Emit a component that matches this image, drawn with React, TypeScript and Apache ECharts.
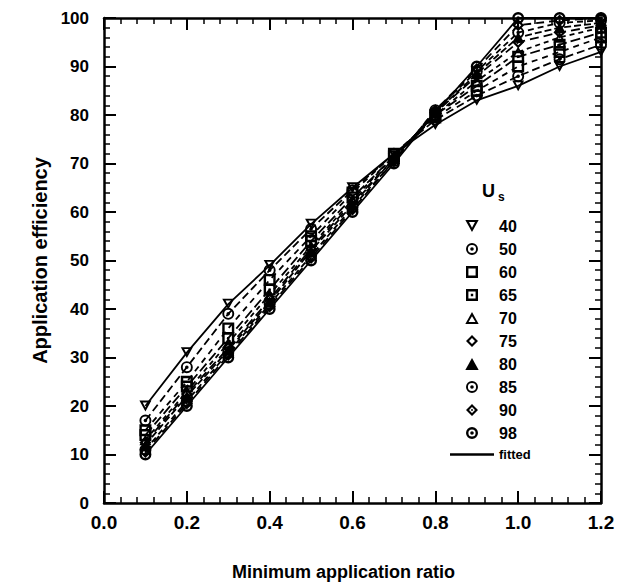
import React, { useEffect, useRef } from "react";
import * as echarts from "echarts";

const ratios = [0.1, 0.2, 0.3, 0.4, 0.5, 0.6, 0.7, 0.8, 0.9, 1.0, 1.1, 1.2];
const usLabels = ["40", "50", "60", "65", "70", "75", "80", "85", "90", "98"];
const us40 = [20, 31, 41, 49, 57.5, 65, 72, 78, 83, 86, 90, 93];
const us50 = [17, 28, 39, 48, 56.5, 64.5, 72, 79, 84, 88, 91.5, 94.5];
const us60 = [15, 25, 36, 46, 55, 64, 72, 79.5, 85, 90, 93, 96];
const us65 = [14, 24, 34, 44, 54, 63, 71.5, 80, 86, 92, 94.5, 97];
const us70 = [13, 23, 33, 43, 53, 62.5, 71.5, 80, 87, 93, 96, 98];
const us75 = [12.5, 22.5, 32, 42, 52.5, 62, 71, 80.5, 88, 95, 97, 98.5];
const us80 = [12, 22, 31.5, 41.5, 52, 61.5, 71, 80.5, 88.5, 96, 98, 99];
const us85 = [11, 21, 31, 41, 51, 61, 70.5, 81, 89, 97, 99, 99.5];
const us90 = [10.5, 20.5, 30.5, 40.5, 50.5, 60.5, 70.5, 81, 89.5, 98.5, 99.5, 100];
const us98 = [10, 20, 30, 40, 50, 60, 70, 80.5, 90, 100, 100, 100];
const seriesValues = [us40, us50, us60, us65, us70, us75, us80, us85, us90, us98];
const xTicks = ["0.0", "0.2", "0.4", "0.6", "0.8", "1.0", "1.2"];

const ring = "M10,0A10,10,0,1,1,10,20A10,10,0,1,1,10,0Z M10,3.2A6.8,6.8,0,1,0,10,16.8A6.8,6.8,0,1,0,10,3.2Z M10,7A3,3,0,1,1,10,13A3,3,0,1,1,10,7Z";
const ringThick = "M10,0A10,10,0,1,1,10,20A10,10,0,1,1,10,0Z M10,4A6,6,0,1,0,10,16A6,6,0,1,0,10,4Z M10,7A3,3,0,1,1,10,13A3,3,0,1,1,10,7Z";
const symbols = [
  "path://M0,0L20,0L10,18Z M5.5,3L10,11.5L14.5,3Z",
  "path://" + ring,
  "path://M0,0L20,0L20,20L0,20Z M4,4L4,16L16,16L16,4Z",
  "path://M0,0L20,0L20,20L0,20Z M4,4L4,16L16,16L16,4Z M8,8L12,8L12,12L8,12Z",
  "path://M10,0L20,18L0,18Z M10,6.5L4.8,15L15.2,15Z",
  "path://M10,0L20,10L10,20L0,10Z M10,5L5,10L10,15L15,10Z",
  "path://M10,0L20,18L0,18Z",
  "path://" + ring,
  "path://M10,0L20,10L10,20L0,10Z M10,5L5,10L10,15L15,10Z M10,8L12,10L10,12L8,10Z",
  "path://" + ringThick,
];
const lineTypes: any[] = [
  "solid", [8, 4], [6, 5], [10, 4], [5, 4], [9, 5], [7, 3], [6, 4], [8, 5], "solid",
];

const FONT = "'Liberation Sans', Arial, sans-serif";

export default function App() {
  const ref = useRef<HTMLDivElement>(null);
  useEffect(() => {
    if (!ref.current) return;
    const chart = echarts.init(ref.current, null, { renderer: "svg" });
    const series: any[] = seriesValues.map((vals, i) => ({
      name: usLabels[i],
      type: "line",
      data: ratios.map((r, j) => [r, vals[j]]),
      symbol: symbols[i],
      symbolSize: 12,
      symbolKeepAspect: true,
      clip: false,
      color: "#000",
      itemStyle: { color: "#000" },
      lineStyle: { color: "#000", width: 1.8, type: lineTypes[i] },
      z: 3,
    }));
    series.push({
      name: "fitted",
      type: "line",
      data: [],
      symbol: "none",
      color: "#000",
      itemStyle: { color: "#000" },
      lineStyle: { color: "#000", width: 2 },
    });
    const mk = () => ({
      axisLine: { show: true, onZero: false, lineStyle: { color: "#000", width: 2.5 } },
      axisTick: { show: true, inside: true, length: 12, lineStyle: { color: "#000", width: 2 } },
      minorTick: { show: true, splitNumber: 5, length: 6, lineStyle: { color: "#000", width: 1.5 } },
      splitLine: { show: false },
      minorSplitLine: { show: false },
    });
    chart.setOption({
      animation: false,
      backgroundColor: "#fff",
      grid: { left: 104, right: 21, top: 18, bottom: 84, containLabel: false },
      xAxis: [
        {
          type: "value",
          min: 0,
          max: 1.2,
          interval: 0.2,
          position: "bottom",
          ...mk(),
          axisLabel: {
            margin: 10,
            color: "#000",
            fontFamily: FONT,
            fontWeight: "bold",
            fontSize: 19,
            formatter: (v: number) => xTicks[Math.round(v / 0.2)] ?? "",
          },
          name: "Minimum application ratio",
          nameLocation: "middle",
          nameGap: 60,
          nameTextStyle: {
            color: "#000",
            fontFamily: FONT,
            fontWeight: "bold",
            fontSize: 18,
            padding: [0, 18, 0, 0],
          },
        },
        {
          type: "value",
          min: 0,
          max: 1.2,
          interval: 0.2,
          position: "top",
          ...mk(),
          axisLabel: { show: false },
        },
      ],
      yAxis: [
        {
          type: "value",
          min: 0,
          max: 100,
          interval: 10,
          position: "left",
          ...mk(),
          axisLabel: {
            margin: 15,
            color: "#000",
            fontFamily: FONT,
            fontWeight: "bold",
            fontSize: 17,
          },
          name: "Application efficiency",
          nameLocation: "middle",
          nameGap: 54,
          nameTextStyle: { color: "#000", fontFamily: FONT, fontWeight: "bold", fontSize: 20 },
        },
        {
          type: "value",
          min: 0,
          max: 100,
          interval: 10,
          position: "right",
          ...mk(),
          axisLabel: { show: false },
        },
      ],
      legend: {
        orient: "vertical",
        left: 445,
        top: 213,
        itemWidth: 44,
        itemHeight: 12,
        itemGap: 7,
        symbolKeepAspect: true,
        textStyle: {
          color: "#000",
          fontFamily: FONT,
          fontWeight: "bold",
          fontSize: 16,
        },
        data: [
          ...usLabels.map((l, i) => ({ name: l, icon: symbols[i], itemStyle: { color: "#000" } })),
          {
            name: "fitted",
            icon: "path://M0,0L40,0L40,2.2L0,2.2Z",
            itemStyle: { color: "#000" },
            textStyle: { fontSize: 13 },
          },
        ],
      },
      graphic: [
        {
          type: "text",
          left: 482,
          top: 182,
          style: {
            text: "{a|U}{b|s}",
            rich: {
              a: { fontFamily: FONT, fontWeight: "bold", fontSize: 18, fill: "#000" },
              b: { fontFamily: FONT, fontWeight: "bold", fontSize: 12, fill: "#000", padding: [12, 0, 0, 3] },
            },
          },
        },
      ],
      series,
    });
    return () => chart.dispose();
  }, []);
  return <div ref={ref} style={{ width: 622, height: 587, position: "absolute", left: 0, top: 0 }} />;
}
